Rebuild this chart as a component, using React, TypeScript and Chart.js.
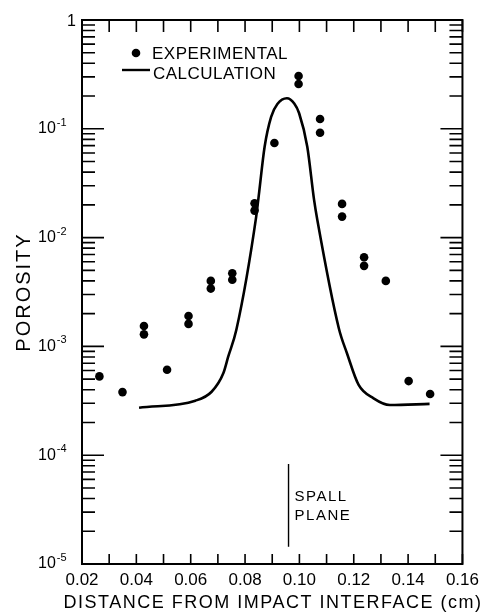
import React, { useEffect, useRef } from 'react';
import { Chart, registerables } from 'chart.js';

Chart.register(...registerables);

// Experimental porosity points (distance in cm, porosity)
const EXP_X = [
  0.0264, 0.0349, 0.0428, 0.0428, 0.0513, 0.0592, 0.0592, 0.0674, 0.0674,
  0.0753, 0.0753, 0.0835, 0.0835, 0.0908, 0.0997, 0.0997, 0.1076, 0.1076,
  0.1157, 0.1157, 0.1238, 0.1238, 0.1318, 0.1402, 0.1481,
];
const EXP_Y = [
  5.3e-4, 3.8e-4, 1.54e-3, 1.29e-3, 6.1e-4, 1.9e-3, 1.61e-3, 4.0e-3, 3.4e-3,
  4.7e-3, 4.1e-3, 2.07e-2, 1.77e-2, 7.4e-2, 0.306, 0.258, 0.123, 0.092,
  2.04e-2, 1.56e-2, 6.6e-3, 5.5e-3, 4.0e-3, 4.8e-4, 3.65e-4,
];

// Calculated porosity curve
const CALC_X = [
  0.041, 0.0617, 0.0677, 0.072, 0.0738, 0.0768, 0.0841, 0.085, 0.0872, 0.0896,
  0.0919, 0.0954, 0.0981, 0.0999, 0.1029, 0.1054, 0.1066, 0.1145, 0.1175,
  0.1218, 0.1273, 0.1333, 0.1479,
];
const CALC_Y = [
  2.73e-4, 3.17e-4, 3.83e-4, 5.66e-4, 8.04e-4, 1.42e-3, 1.56e-2, 2.38e-2,
  6.85e-2, 0.129, 0.169, 0.191, 0.171, 0.139, 0.0685, 0.0222, 0.0145, 1.47e-3,
  8.65e-4, 4.42e-4, 3.33e-4, 2.89e-4, 2.96e-4,
];

const X_MIN = 0.02;
const X_MAX = 0.16;
const X_LABEL_STEP = 0.02;
const X_MINOR_STEP = 0.01;
const Y_MIN = 1e-5;
const Y_MAX = 1;
const Y_EXPONENTS = [0, -1, -2, -3, -4, -5];

const SPALL_X = 0.096;
const SPALL_Y_TOP = 8.3e-5;
const SPALL_Y_BOTTOM = 1.44e-5;
const SPALL_LABELS = ['SPALL', 'PLANE'];
const LEGEND_LABELS = ['EXPERIMENTAL', 'CALCULATION'];
const X_TITLE = 'DISTANCE FROM IMPACT INTERFACE (cm)';
const Y_TITLE = 'POROSITY';

const FONT = '"Liberation Sans", Arial, sans-serif';

const decorPlugin = {
  id: 'decor',
  afterDraw(chart: any) {
    const { ctx, chartArea: a, scales } = chart;
    const xs = scales.x;
    const ys = scales.y;
    ctx.save();
    ctx.strokeStyle = '#000';
    ctx.fillStyle = '#000';

    // frame
    ctx.lineWidth = 2;
    ctx.strokeRect(a.left, a.top, a.right - a.left, a.bottom - a.top);

    // x ticks (inward, bottom and top)
    ctx.lineWidth = 1.6;
    const nX = Math.round((X_MAX - X_MIN) / X_MINOR_STEP);
    for (let i = 0; i <= nX; i++) {
      const px = xs.getPixelForValue(X_MIN + i * X_MINOR_STEP);
      ctx.beginPath();
      ctx.moveTo(px, a.bottom);
      ctx.lineTo(px, a.bottom - 10);
      ctx.moveTo(px, a.top);
      ctx.lineTo(px, a.top + 12);
      ctx.stroke();
    }

    // y ticks (inward, left and right)
    for (const e of Y_EXPONENTS) {
      const py = ys.getPixelForValue(Math.pow(10, e));
      ctx.beginPath();
      ctx.moveTo(a.left, py);
      ctx.lineTo(a.left + 22, py);
      ctx.moveTo(a.right, py);
      ctx.lineTo(a.right - 22, py);
      ctx.stroke();
      if (e < 0) {
        for (let m = 2; m <= 9; m++) {
          const pm = ys.getPixelForValue(m * Math.pow(10, e));
          ctx.beginPath();
          ctx.moveTo(a.left, pm);
          ctx.lineTo(a.left + 13, pm);
          ctx.moveTo(a.right, pm);
          ctx.lineTo(a.right - 13, pm);
          ctx.stroke();
        }
      }
    }

    // y tick labels
    ctx.textBaseline = 'middle';
    for (const e of Y_EXPONENTS) {
      const py = ys.getPixelForValue(Math.pow(10, e));
      if (e === 0) {
        ctx.font = `16px ${FONT}`;
        ctx.textAlign = 'right';
        ctx.fillText('1', a.left - 6, py + 2);
      } else {
        ctx.font = `16px ${FONT}`;
        ctx.textAlign = 'left';
        const lx = a.left - 44;
        ctx.fillText('10', lx, py);
        const w = ctx.measureText('10').width;
        ctx.font = `11px ${FONT}`;
        ctx.fillText('-' + String(-e), lx + w + 1, py - 6);
      }
    }

    // y title
    ctx.save();
    ctx.translate(24, (a.top + a.bottom) / 2);
    ctx.rotate(-Math.PI / 2);
    ctx.font = `20px ${FONT}`;
    (ctx as any).letterSpacing = '2px';
    ctx.textAlign = 'center';
    ctx.textBaseline = 'middle';
    ctx.fillText(Y_TITLE, 0, 0);
    ctx.restore();

    // x title
    ctx.save();
    ctx.font = `18px ${FONT}`;
    (ctx as any).letterSpacing = '1.5px';
    ctx.textAlign = 'center';
    ctx.textBaseline = 'middle';
    ctx.fillText(X_TITLE, 273, 603);
    ctx.restore();

    // legend
    ctx.save();
    ctx.font = `17px ${FONT}`;
    (ctx as any).letterSpacing = '0.5px';
    ctx.textAlign = 'left';
    ctx.textBaseline = 'middle';
    ctx.beginPath();
    ctx.arc(136, 53, 4.3, 0, Math.PI * 2);
    ctx.fill();
    ctx.fillText(LEGEND_LABELS[0], 152, 54);
    ctx.lineWidth = 2.4;
    ctx.beginPath();
    ctx.moveTo(122, 70);
    ctx.lineTo(150, 70);
    ctx.stroke();
    ctx.fillText(LEGEND_LABELS[1], 153, 74);
    ctx.restore();

    // spall plane marker
    const sx = xs.getPixelForValue(SPALL_X);
    ctx.lineWidth = 1.4;
    ctx.beginPath();
    ctx.moveTo(sx, ys.getPixelForValue(SPALL_Y_TOP));
    ctx.lineTo(sx, ys.getPixelForValue(SPALL_Y_BOTTOM));
    ctx.stroke();
    ctx.save();
    ctx.font = `15px ${FONT}`;
    (ctx as any).letterSpacing = '1.5px';
    ctx.textAlign = 'left';
    ctx.textBaseline = 'middle';
    ctx.fillText(SPALL_LABELS[0], sx + 6, 497);
    ctx.fillText(SPALL_LABELS[1], sx + 6, 516);
    ctx.restore();

    ctx.restore();
  },
};

export default function App() {
  const ref = useRef<HTMLCanvasElement | null>(null);

  useEffect(() => {
    if (!ref.current) return;
    const chart = new Chart(ref.current, {
      type: 'scatter',
      data: {
        datasets: [
          {
            label: LEGEND_LABELS[0],
            data: EXP_X.map((x, i) => ({ x, y: EXP_Y[i] })),
            backgroundColor: '#000',
            borderColor: '#000',
            borderWidth: 0,
            pointRadius: 4.3,
            showLine: false,
          },
          {
            label: LEGEND_LABELS[1],
            data: CALC_X.map((x, i) => ({ x, y: CALC_Y[i] })),
            borderColor: '#000',
            backgroundColor: '#000',
            borderWidth: 2.6,
            pointRadius: 0,
            showLine: true,
            cubicInterpolationMode: 'monotone',
            fill: false,
          } as any,
        ],
      },
      options: {
        animation: false,
        responsive: true,
        maintainAspectRatio: false,
        layout: { padding: { top: 20, right: 18, bottom: 0, left: 0 } },
        plugins: {
          legend: { display: false },
          tooltip: { enabled: false },
        },
        scales: {
          x: {
            type: 'linear',
            min: X_MIN,
            max: X_MAX,
            grid: { display: false, drawTicks: false },
            border: { display: false },
            ticks: {
              stepSize: X_LABEL_STEP,
              autoSkip: false,
              maxRotation: 0,
              padding: 6,
              color: '#000',
              font: { size: 17, family: FONT },
              callback: (v: any) => Number(v).toFixed(2),
            },
            afterFit: (s: any) => {
              s.height = 49;
            },
          },
          y: {
            type: 'logarithmic',
            min: Y_MIN,
            max: Y_MAX,
            grid: { display: false },
            border: { display: false },
            ticks: { display: false },
            afterFit: (s: any) => {
              s.width = 82;
            },
          },
        },
      },
      plugins: [decorPlugin],
    });
    return () => chart.destroy();
  }, []);

  return (
    <div style={{ position: 'fixed', left: 0, top: 0, width: 485, height: 613, background: '#fff' }}>
      <canvas ref={ref} />
    </div>
  );
}
